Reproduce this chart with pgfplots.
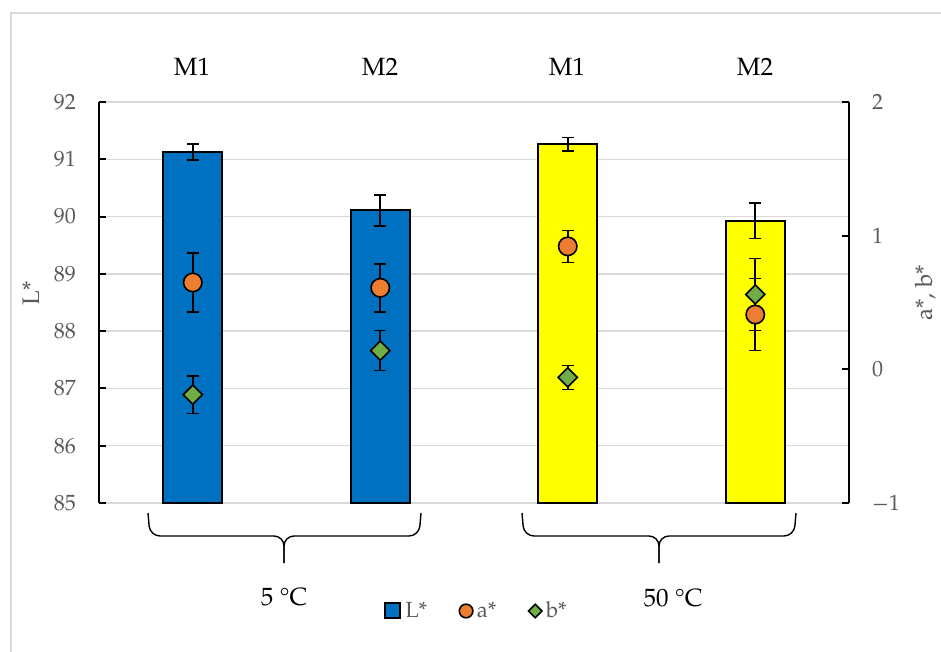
\documentclass[border=0pt]{standalone}
\usepackage{fontspec}
\setmainfont{TeX Gyre Pagella}
\usepackage{pgfplots}
\pgfplotsset{compat=1.18}
\definecolor{barblue}{HTML}{0070C0}
\definecolor{baryellow}{HTML}{FFFF00}
\definecolor{aorange}{HTML}{ED7D31}
\definecolor{bgreen}{HTML}{70AD47}
\definecolor{txtgray}{HTML}{595959}
\definecolor{gridgray}{HTML}{D9D9D9}
\pgfplotsset{
  myerr/.style={error bars/.cd, y dir=both, y explicit,
    error bar style={draw=black, line width=0.8pt},
    error mark options={rotate=90, mark size=3pt, draw=black, line width=0.8pt}},
}
\begin{document}
\begin{tikzpicture}
\useasboundingbox (0,0) rectangle (470.5pt,-326pt);
% frame
\draw[gridgray, line width=0.7pt] (5.5pt,-326pt) -- (5.5pt,-6.5pt) -- (470.5pt,-6.5pt);
\begin{axis}[
  at={(49.5pt,-251.5pt)}, anchor=south west,
  scale only axis, width=375pt, height=200.5pt,
  xmin=-0.5, xmax=3.5, ymin=85, ymax=92,
  ytick={85,...,92}, xtick=\empty,
  axis x line=none, axis y line*=left,
  y axis line style={black, line width=1pt, -},
  ymajorgrids, grid style={gridgray, line width=0.7pt},
  tick align=inside, major tick length=3.5pt,
  tick style={black, line width=1pt},
  /pgf/number format/assume math mode=true,
  yticklabel style={text=txtgray, font=\fontsize{11}{13}\selectfont, xshift=-8pt},
  ybar, bar width=29.5pt, bar shift=0pt,
]
\addplot[fill=barblue, draw=black, line width=1pt, myerr] coordinates {
  (0,91.13) +- (0,0.14)
  (1,90.11) +- (0,0.27)
};
\addplot[fill=baryellow, draw=black, line width=1pt, myerr] coordinates {
  (2,91.26) +- (0,0.12)
  (3,89.93) +- (0,0.31)
};
\end{axis}
\begin{axis}[
  at={(49.5pt,-251.5pt)}, anchor=south west,
  scale only axis, width=375pt, height=200.5pt,
  xmin=-0.5, xmax=3.5, ymin=-1, ymax=2,
  ytick={-1,0,1,2}, yticklabels={−1,0,1,2}, xtick=\empty,
  axis x line=none, axis y line*=right,
  y axis line style={black, line width=1pt, -},
  tick align=inside, major tick length=3.5pt,
  tick style={black, line width=1pt},
  yticklabel style={text=txtgray, font=\fontsize{11}{13}\selectfont, xshift=8pt},
  clip=false,
  legend style={at={(0.5047,-0.2693)}, anchor=center, draw=none, fill=none,
    legend columns=3, font=\fontsize{11}{13}\selectfont, text=txtgray,
    /tikz/every even column/.append style={column sep=14pt},
    /tikz/every odd column/.append style={column sep=0pt}},
  legend cell align=left,
]
% error bars first
\addplot[forget plot, draw=none, mark=none, myerr] coordinates {
  (0,0.65) +- (0,0.22)
  (1,0.61) +- (0,0.18)
  (2,0.92) +- (0,0.12)
  (3,0.41) +- (0,0.27)
};
\addplot[forget plot, draw=none, mark=none, myerr] coordinates {
  (0,-0.19) +- (0,0.14)
  (1,0.14) +- (0,0.15)
  (2,-0.06) +- (0,0.09)
  (3,0.56) +- (0,0.27)
};
% markers
\addplot[forget plot, only marks, mark=square*, mark size=3.4pt,
  mark options={rotate=45, fill=bgreen, draw=black, line width=0.8pt}] coordinates {
  (0,-0.19) (1,0.14) (2,-0.06) (3,0.56)
};
\addplot[forget plot, only marks, mark=*, mark size=4.6pt,
  mark options={fill=aorange, draw=black, line width=0.8pt}] coordinates {
  (0,0.65) (1,0.61) (2,0.92) (3,0.41)
};
\addlegendimage{legend image code/.code={\draw[fill=barblue, draw=black, line width=1pt] (0pt,-3.75pt) rectangle (7.5pt,3.75pt);}}
\addlegendentry{L*}
\addlegendimage{only marks, mark=*, mark size=3.4pt, mark options={fill=aorange, draw=black, line width=0.8pt}}
\addlegendentry{a*}
\addlegendimage{only marks, mark=square*, mark size=2.4pt, mark options={rotate=45, fill=bgreen, draw=black, line width=0.8pt}}
\addlegendentry{b*}
\end{axis}
\begin{scope}[x=0.5pt, y=-0.5pt]
  \node[font=\fontsize{12.5}{14}\selectfont] at (192,67) {M1};
  \node[font=\fontsize{12.5}{14}\selectfont] at (380,67) {M2};
  \node[font=\fontsize{12.5}{14}\selectfont] at (567,67) {M1};
  \node[font=\fontsize{12.5}{14}\selectfont] at (755,67) {M2};
  \node[font=\fontsize{12}{14}\selectfont, text=txtgray, rotate=90] at (31,293) {L*};
  \node[font=\fontsize{12}{14}\selectfont, text=txtgray, rotate=90] at (926,293) {a*, b*};
  \node[font=\fontsize{12.5}{14}\selectfont] at (284,597) {5 °C};
  \node[font=\fontsize{12.5}{14}\selectfont] at (673,598) {50 °C};
  \draw[black, line width=0.7pt, rounded corners=5pt] (148,513) -- (150,536) -- (284,536) -- (284,563);
  \draw[black, line width=0.7pt, rounded corners=5pt] (421,513) -- (419,536) -- (284,536) -- (284,563);
  \draw[black, line width=0.7pt, rounded corners=5pt] (522,513) -- (524,536) -- (659,536) -- (659,563);
  \draw[black, line width=0.7pt, rounded corners=5pt] (796,513) -- (794,536) -- (659,536) -- (659,563);
\end{scope}
\end{tikzpicture}
\end{document}
